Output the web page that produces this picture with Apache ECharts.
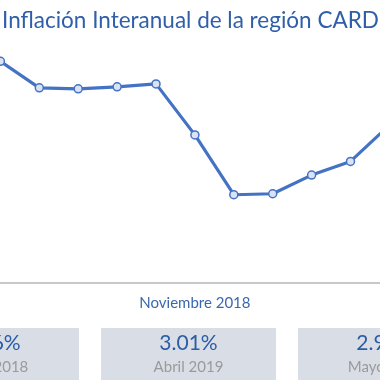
<!DOCTYPE html>
<html><head><meta charset="utf-8">
<script src="https://cdn.jsdelivr.net/npm/echarts@6/dist/echarts.min.js"></script>
<style>html,body{margin:0;padding:0;background:#fff;overflow:hidden}#c{width:380px;height:380px}</style>
</head><body><div id="c"></div>
<script>
const titleText = 'Inflación Interanual de la región CARD';
const months = ['Mayo 2018','Junio 2018','Julio 2018','Agosto 2018','Septiembre 2018','Octubre 2018','Noviembre 2018','Diciembre 2018','Enero 2019','Febrero 2019','Marzo 2019','Abril 2019','Mayo 2019'];
const inflation = [3.60, 3.66, 3.39, 3.38, 3.40, 3.43, 2.91, 2.30, 2.31, 2.50, 2.64, 3.01, 2.95];
const kpiValues = ['3.66%', '3.01%', '2.95%'];
const kpiLabels = ['Junio 2018', 'Abril 2019', 'Mayo 2019'];

const FONT = 'Lato';
const boxW = 175, boxGap = 22, boxFirstX = -96, boxTop = 328;
const graphics = [];
kpiValues.forEach((v, i) => {
  const x = boxFirstX + i * (boxW + boxGap);
  graphics.push({type: 'rect', shape: {x: x, y: boxTop, width: boxW, height: 70}, style: {fill: '#d9dee6'}, z: 1});
  graphics.push({type: 'text', x: x + boxW / 2, y: 343, style: {text: v, fill: '#2b5ca6', font: '21px ' + FONT, align: 'center', verticalAlign: 'middle'}, z: 2});
  graphics.push({type: 'text', x: x + boxW / 2, y: 367, style: {text: kpiLabels[i], fill: '#9a9a9a', font: '15px ' + FONT, align: 'center', verticalAlign: 'middle'}, z: 2});
});

const chart = echarts.init(document.getElementById('c'));
chart.setOption({
  backgroundColor: '#ffffff',
  animation: false,
  title: {text: titleText, left: 2, top: 9, padding: 0, textStyle: {fontFamily: FONT, fontSize: 22.5, fontWeight: 'normal', color: '#2f5fa8'}},
  grid: {left: -38.5, right: -48.3, top: 28, bottom: 97, containLabel: false, outerBoundsMode: 'none'},
  xAxis: {
    type: 'category', data: months, boundaryGap: false,
    axisLine: {lineStyle: {color: '#c8c8c8', width: 2}},
    axisTick: {show: false},
    axisLabel: {interval: 5, margin: 13, fontFamily: FONT, fontSize: 15, color: '#3b68ad'},
    splitLine: {show: false}
  },
  yAxis: {type: 'value', min: 1.4, max: 4.0, show: false, splitLine: {show: false}},
  series: [{
    type: 'line', data: inflation,
    lineStyle: {color: '#4472c4', width: 3.2},
    symbol: 'circle', symbolSize: 8,
    itemStyle: {color: '#dae3f3', borderColor: '#4472c4', borderWidth: 1.5}
  }],
  graphic: graphics
});
</script></body></html>
